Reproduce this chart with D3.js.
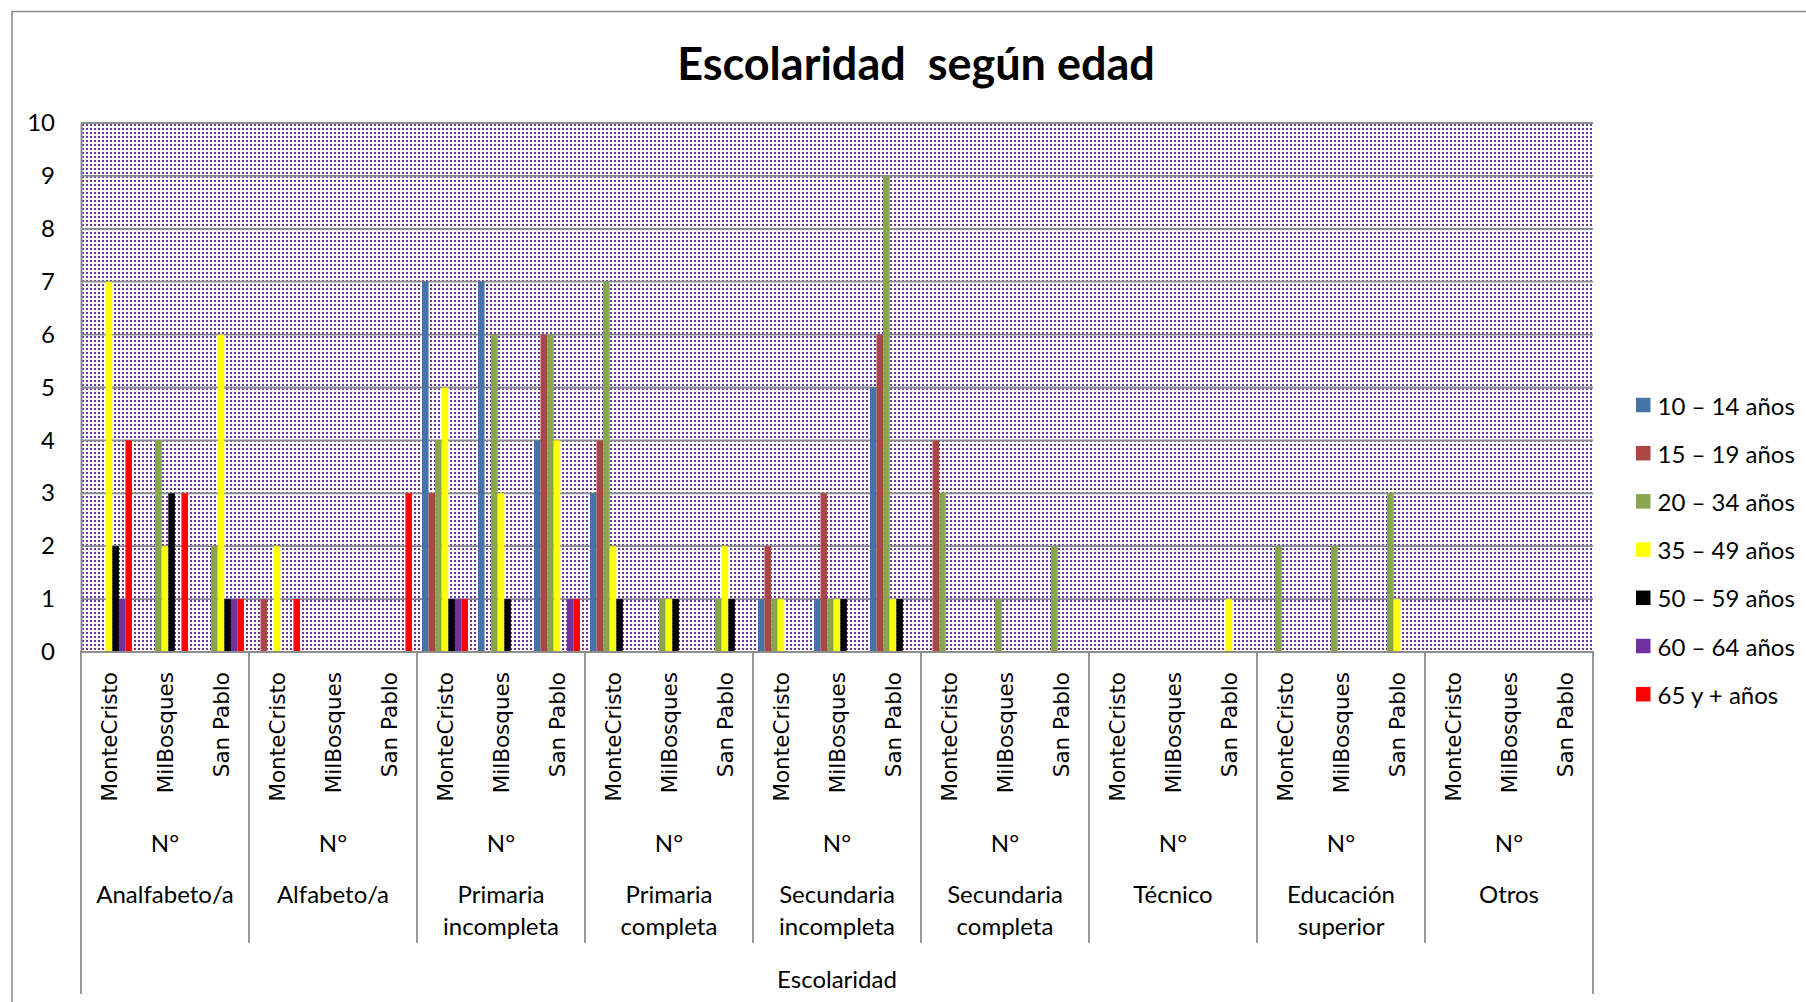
<!DOCTYPE html>
<html>
<head>
<meta charset="utf-8">
<script src="https://cdn.jsdelivr.net/npm/d3@7"></script>
<style>
  html, body { margin: 0; padding: 0; background: #fff; }
  svg { display: block; }
</style>
</head>
<body>
<script>
//// Data ///////////////////////////////////////
const groups = ["Analfabeto/a", "Alfabeto/a", "Primaria incompleta", "Primaria completa",
  "Secundaria incompleta", "Secundaria completa", "Técnico", "Educación superior", "Otros"]
const places = ["MonteCristo", "MilBosques", "San Pablo"]
const seriesNames = ["10 – 14 años", "15 – 19 años", "20 – 34 años", "35 – 49 años",
  "50 – 59 años", "60 – 64 años", "65 y + años"]
const yTicks = [0, 1, 2, 3, 4, 5, 6, 7, 8, 9, 10]

// one value per leaf: group x place
const s10_14 = [0,0,0, 0,0,0, 7,7,4, 3,0,0, 1,1,5, 0,0,0, 0,0,0, 0,0,0, 0,0,0]
const s15_19 = [0,0,0, 1,0,0, 3,0,6, 4,0,0, 2,3,6, 4,0,0, 0,0,0, 0,0,0, 0,0,0]
const s20_34 = [0,4,2, 0,0,0, 4,6,6, 7,1,1, 1,1,9, 3,1,2, 0,0,0, 2,2,3, 0,0,0]
const s35_49 = [7,2,6, 2,0,0, 5,3,4, 2,1,2, 1,1,1, 0,0,0, 0,0,1, 0,0,1, 0,0,0]
const s50_59 = [2,3,1, 0,0,0, 1,1,0, 1,1,1, 0,1,1, 0,0,0, 0,0,0, 0,0,0, 0,0,0]
const s60_64 = [1,0,1, 0,0,0, 1,0,1, 0,0,0, 0,0,0, 0,0,0, 0,0,0, 0,0,0, 0,0,0]
const s65    = [4,3,1, 1,0,3, 1,0,1, 0,0,0, 0,0,0, 0,0,0, 0,0,0, 0,0,0, 0,0,0]
const seriesValues = [s10_14, s15_19, s20_34, s35_49, s50_59, s60_64, s65]

//// Drawing constants //////////////////////////
const WIDTH = 1806
const HEIGHT = 1002
const PLOT = { left: 81, right: 1593, top: 123, bottom: 652 }
const COLORS = ["#4572A7", "#AA4643", "#89A54E", "#FFFF00", "#000000", "#7030A0", "#FF0000"]
const GRID = "#8c8c8c"
const TEXT_FONT = "Lato, 'Open Sans', sans-serif"
const LEAF_FONT = "'DejaVu Sans', Verdana, sans-serif"

const svg = d3.select("body").append("svg")
  .attr("width", WIDTH)
  .attr("height", HEIGHT)

// dotted pattern of the plot area
const defs = svg.append("defs")
const pat = defs.append("pattern")
  .attr("id", "dots")
  .attr("patternUnits", "userSpaceOnUse")
  .attr("x", PLOT.left).attr("y", PLOT.top)
  .attr("width", 4).attr("height", 4)
pat.append("rect").attr("width", 4).attr("height", 4).attr("fill", "#fff")
pat.append("rect").attr("x", 1).attr("y", 1).attr("width", 2).attr("height", 2).attr("fill", "#7030A0")

// chart border
svg.append("rect")
  .attr("x", 12).attr("y", 11.5)
  .attr("width", 1808).attr("height", 1100)
  .attr("fill", "none").attr("stroke", "#8a8a8a").attr("stroke-width", 1.5)

// title (double space kept)
svg.append("text")
  .attr("x", 916).attr("y", 63)
  .attr("text-anchor", "middle").attr("dominant-baseline", "central")
  .style("white-space", "pre")
  .style("font-family", TEXT_FONT).style("font-weight", "bold").style("font-size", "45px")
  .text("Escolaridad  según edad")

//// Scales /////////////////////////////////////
const leaves = []
groups.forEach(g => places.forEach(p => leaves.push(g + "|" + p)))

const x0 = d3.scaleBand().domain(leaves).range([PLOT.left, PLOT.right])
const xg = d3.scaleBand().domain(groups).range([PLOT.left, PLOT.right])
const gap = x0.bandwidth() * 1.5 / 8.5
const x1 = d3.scaleBand().domain(d3.range(seriesNames.length))
  .range([gap / 2, x0.bandwidth() - gap / 2])
const y = d3.scaleLinear().domain([0, 10]).range([PLOT.bottom, PLOT.top])

// plot background
svg.append("rect")
  .attr("x", PLOT.left).attr("y", PLOT.top)
  .attr("width", PLOT.right - PLOT.left).attr("height", PLOT.bottom - PLOT.top)
  .attr("fill", "url(#dots)")

// gridlines
svg.append("g").selectAll("line")
  .data(yTicks.filter(d => d > 0))
  .join("line")
  .attr("x1", PLOT.left).attr("x2", PLOT.right)
  .attr("y1", d => y(d)).attr("y2", d => y(d))
  .attr("stroke", GRID).attr("stroke-width", 1.8)

// bars
const leafG = svg.append("g").selectAll("g")
  .data(leaves)
  .join("g")
  .attr("transform", d => `translate(${x0(d)},0)`)

leafG.selectAll("rect")
  .data((d, i) => seriesValues.map((vals, s) => ({ s: s, v: vals[i] })))
  .join("rect")
  .filter(d => d.v > 0)
  .attr("x", d => x1(d.s))
  .attr("width", x1.bandwidth())
  .attr("y", d => y(d.v))
  .attr("height", d => y(0) - y(d.v))
  .attr("fill", d => COLORS[d.s])

// y axis
const yAxis = svg.append("g")
  .attr("transform", `translate(${PLOT.left},0)`)
  .call(d3.axisLeft(y).tickValues(yTicks).tickSize(0).tickPadding(26).tickFormat(d3.format("d")))
yAxis.select(".domain").attr("stroke", GRID).attr("stroke-width", 2)
yAxis.selectAll("text")
  .style("font-family", TEXT_FONT).style("font-size", "24px").attr("fill", "#000")

// x axis line
svg.append("line")
  .attr("x1", PLOT.left - 1).attr("x2", PLOT.right + 1)
  .attr("y1", PLOT.bottom).attr("y2", PLOT.bottom)
  .attr("stroke", GRID).attr("stroke-width", 2)

//// Category axis (multi level) ////////////////
// separators between groups
svg.append("g").selectAll("line")
  .data(groups.slice(1))
  .join("line")
  .attr("x1", d => xg(d)).attr("x2", d => xg(d))
  .attr("y1", PLOT.bottom).attr("y2", 943)
  .attr("stroke", GRID).attr("stroke-width", 1.8)

// outer lines
svg.append("g").selectAll("line")
  .data([PLOT.left, PLOT.right])
  .join("line")
  .attr("x1", d => d).attr("x2", d => d)
  .attr("y1", PLOT.bottom).attr("y2", 994)
  .attr("stroke", GRID).attr("stroke-width", 1.8)

// leaf labels (rotated)
svg.append("g").selectAll("text")
  .data(leaves)
  .join("text")
  .attr("transform", d => `translate(${x0(d) + x0.bandwidth() / 2},672) rotate(-90)`)
  .attr("text-anchor", "end")
  .attr("dy", "0.36em")
  .style("font-family", LEAF_FONT).style("font-size", "21.5px")
  .text(d => d.split("|")[1])

// N° row
svg.append("g").selectAll("text")
  .data(groups)
  .join("text")
  .attr("x", d => xg(d) + xg.bandwidth() / 2)
  .attr("y", 842)
  .attr("text-anchor", "middle").attr("dominant-baseline", "central")
  .style("font-family", TEXT_FONT).style("font-size", "24px")
  .text("N°")

// group labels
const gl = svg.append("g").selectAll("text")
  .data(groups)
  .join("text")
  .attr("x", d => xg(d) + xg.bandwidth() / 2)
  .attr("y", 895)
  .attr("text-anchor", "middle")
  .style("font-family", TEXT_FONT).style("font-size", "24px")
gl.selectAll("tspan")
  .data(d => d.split(" "))
  .join("tspan")
  .attr("x", function () { return d3.select(this.parentNode).attr("x") })
  .attr("dy", (d, i) => i === 0 ? "0.35em" : "1.3em")
  .text(d => d)

// outer level label
svg.append("text")
  .attr("x", (PLOT.left + PLOT.right) / 2).attr("y", 978)
  .attr("text-anchor", "middle").attr("dominant-baseline", "central")
  .style("font-family", TEXT_FONT).style("font-size", "24px")
  .text("Escolaridad")

//// Legend /////////////////////////////////////
const legend = svg.append("g").selectAll("g")
  .data(seriesNames)
  .join("g")
  .attr("transform", (d, i) => `translate(1636,${405 + i * 48.2})`)
legend.append("rect")
  .attr("x", 0).attr("y", -7.25)
  .attr("width", 14.5).attr("height", 14.5)
  .attr("fill", (d, i) => COLORS[i])
legend.append("text")
  .attr("x", 21.5).attr("y", 0)
  .attr("dominant-baseline", "central")
  .style("font-family", TEXT_FONT).style("font-size", "24px")
  .text(d => d)
</script>
</body>
</html>
